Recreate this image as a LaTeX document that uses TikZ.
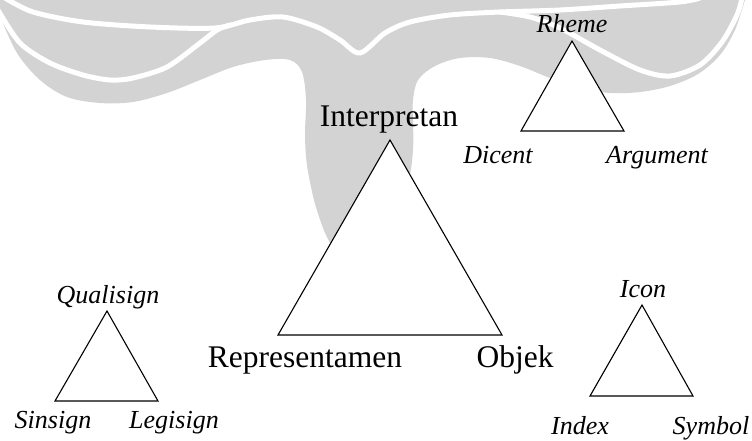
\documentclass[tikz,border=0pt]{standalone}
\usepackage{fontspec}
\setmainfont{Liberation Serif}
\definecolor{wmgray}{RGB}{211,211,211}
\begin{document}
\begin{tikzpicture}[x=1pt,y=-1pt,
  wm/.style={fill=wmgray},
  stripe/.style={draw=white,line width=5pt,line cap=round},
  tri/.style={draw=black,fill=white,line width=1.1pt,line join=miter},
  mainlbl/.style={inner sep=0pt,anchor=base,font=\fontsize{31.5}{36}\selectfont},
  sublbl/.style={inner sep=0pt,anchor=base,font=\fontsize{26}{30}\selectfont\itshape}]
\useasboundingbox (0,0) rectangle (752,441);
% faint watermark
\begin{scope}
\clip (0,0) rectangle (752,441);
\fill[wm] (0,0) -- plot[smooth,tension=0.55] coordinates {(0,16) (17,53) (40,80) (67,97) (100,103) (133,102) (167,93) (200,80) (233,67) (265,60) (290,60) (302,72) (306,100) (305,135) (307,165) (314,200) (323,228) (330,243)}
  -- plot[smooth,tension=0.55] coordinates {(330,243) (360,222) (390,200) (408,180) (413,150) (413,120) (413,100) (418,80) (435,66) (460,58) (490,58) (520,66) (550,78) (580,88) (610,93) (640,92) (670,86) (698,74) (720,55) (735,30) (745,0)} -- cycle;
\draw[stripe] plot[smooth] coordinates {(5,-2) (33,12) (83,22) (150,27) (215,28) (250,20) (283,17) (317,27) (340,40) (360,53) (385,33) (410,22) (450,15) (500,12) (560,10) (620,6) (680,2) (700,-2)};
\draw[stripe] plot[smooth] coordinates {(-2,10) (20,43) (50,63) (83,75) (110,80) (133,78) (167,67) (200,43) (217,30) (230,25)};
\draw[stripe] plot[smooth] coordinates {(500,12) (530,17) (560,28) (600,50) (640,70) (670,76) (700,65) (722,42) (737,15) (742,-2)};
\end{scope}
% main triangle
\coordinate (mI) at (390,140);
\coordinate (mR) at (278,335);
\coordinate (mO) at (502,335);
\draw[tri] (mI) -- (mR) -- (mO) -- cycle;
\node[mainlbl] (interpretan) at (389,127) {Interpretan};
\node[mainlbl] (representamen) at (305,367) {Representamen};
\node[mainlbl] (objek) at (515,367) {Objek};
% Rheme triangle
\coordinate (rT) at (572,41);
\coordinate (rL) at (521,131);
\coordinate (rR) at (624,131);
\draw[tri] (rT) -- (rL) -- (rR) -- cycle;
\node[sublbl] (rheme) at (572,33) {Rheme};
\node[sublbl] (dicent) at (498,163) {Dicent};
\node[sublbl] (argument) at (657,163) {Argument};
% Qualisign triangle
\coordinate (qT) at (107,311);
\coordinate (qL) at (55,401);
\coordinate (qR) at (158,401);
\draw[tri] (qT) -- (qL) -- (qR) -- cycle;
\node[sublbl] (qualisign) at (108,303) {Qualisign};
\node[sublbl] (sinsign) at (53,428) {Sinsign};
\node[sublbl] (legisign) at (174,428) {Legisign};
% Icon triangle
\coordinate (iT) at (642,305);
\coordinate (iL) at (590,396);
\coordinate (iR) at (693,396);
\draw[tri] (iT) -- (iL) -- (iR) -- cycle;
\node[sublbl] (icon) at (643,297) {Icon};
\node[sublbl] (index) at (580,434) {Index};
\node[sublbl] (symbol) at (711,434) {Symbol};
\end{tikzpicture}
\end{document}
